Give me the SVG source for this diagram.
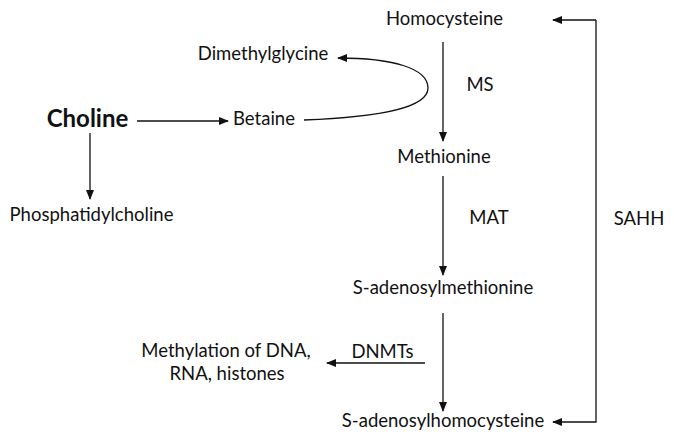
<svg xmlns="http://www.w3.org/2000/svg" width="674" height="443" viewBox="0 0 674 443">
<style>
text{font-family:Lato,"Open Sans",sans-serif;font-size:18.5px;fill:#111;text-anchor:middle}
.b{font-weight:bold;font-size:24px}
.c{stroke:#111;stroke-width:1.3;fill:none}
</style>
<defs><marker id="ah" markerWidth="10" markerHeight="8" refX="9" refY="4" orient="auto" markerUnits="userSpaceOnUse"><path d="M0,0 L10,4 L0,8 Z" fill="#111"/></marker></defs>
<rect width="674" height="443" fill="#fff"/>
<g id="connectors">
<line class="c" x1="137" y1="121" x2="228" y2="121" marker-end="url(#ah)"/>
<line class="c" x1="90" y1="133" x2="90" y2="199" marker-end="url(#ah)"/>
<path class="c" d="M304,120 C380,117 428,108 428,88 C428,68 392,58 338,58" marker-end="url(#ah)"/>
<line class="c" x1="443" y1="42" x2="443" y2="141" marker-end="url(#ah)"/>
<line class="c" x1="443" y1="176" x2="443" y2="275" marker-end="url(#ah)"/>
<line class="c" x1="443" y1="313" x2="443" y2="411" marker-end="url(#ah)"/>
<line class="c" x1="425" y1="363" x2="327" y2="363" marker-end="url(#ah)"/>
<polyline class="c" points="596,20 596,422 553,422" marker-end="url(#ah)"/>
<line class="c" x1="596" y1="20" x2="553" y2="20" marker-end="url(#ah)"/>
</g>
<g id="homocysteine"><text x="444.5" y="25">Homocysteine</text></g>
<g id="dimethylglycine"><text x="263" y="60">Dimethylglycine</text></g>
<g id="choline"><text class="b" x="87.5" y="127">Choline</text></g>
<g id="betaine"><text x="264" y="125">Betaine</text></g>
<g id="phosphatidylcholine"><text x="91.5" y="221">Phosphatidylcholine</text></g>
<g id="ms"><text x="480" y="91">MS</text></g>
<g id="methionine"><text x="444" y="163">Methionine</text></g>
<g id="mat"><text x="489" y="224">MAT</text></g>
<g id="sahh"><text x="639" y="225">SAHH</text></g>
<g id="sam"><text x="443" y="294">S-adenosylmethionine</text></g>
<g id="dnmts"><text x="382.5" y="358">DNMTs</text></g>
<g id="methylation"><text x="226" y="357">Methylation of DNA,</text><text x="227" y="380">RNA, histones</text></g>
<g id="sah"><text x="443" y="427">S-adenosylhomocysteine</text></g>
</svg>
